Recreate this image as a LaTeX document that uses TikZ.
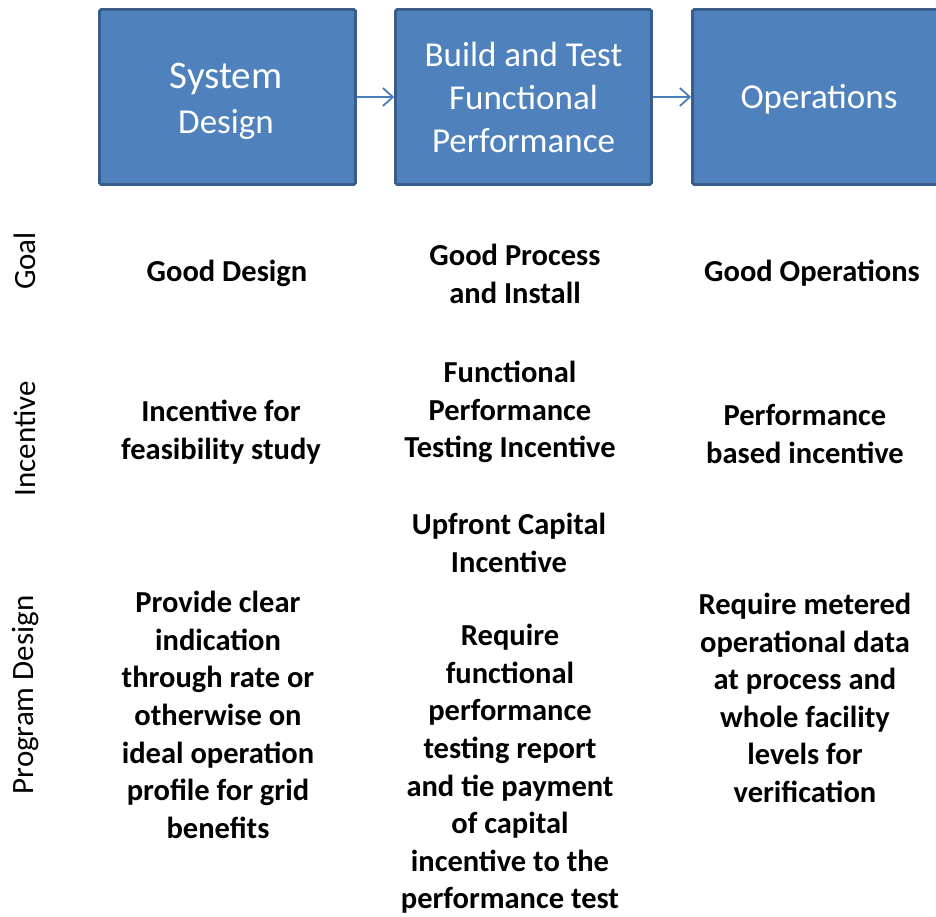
\documentclass[tikz,border=0pt]{standalone}
\usepackage{fontspec}
\setmainfont{Carlito}
\usetikzlibrary{arrows.meta}
\definecolor{stagefill}{HTML}{4F81BD}
\definecolor{stageedge}{HTML}{385D8A}
\definecolor{flowblue}{HTML}{4A7EBB}
\tikzset{
  stage/.style ={draw=stageedge,fill=stagefill,line width=2.6pt,rounded corners=1.5pt,
                 minimum width=256pt,minimum height=175pt,align=center,
                 text=white,font=\fontsize{35}{43}\selectfont,inner sep=0pt},
  stagetxt/.style={text=white,inner sep=0pt},
  cell/.style  ={align=center,font=\bfseries\fontsize{30.5}{37.6}\selectfont,inner sep=0pt},
  rowlbl/.style={rotate=90,font=\fontsize{31}{36}\selectfont,inner sep=0pt},
  flow/.style  ={-{Straight Barb[length=10pt,width=18pt]},draw=flowblue,line width=1.8pt},
}
\begin{document}
\begin{tikzpicture}[x=1pt,y=-1pt]
  \useasboundingbox (0,0) rectangle (936,917);
  \clip (0,0) rectangle (936,917);

  % stages
  \node[stage] (sys) at (227.5,97) {};
  \node[stage] (bld) at (523.5,97) {Build and Test\\Functional\\Performance};
  \node[stage] (ops) at (820.5,97) {};
  \node[stagetxt,font=\fontsize{39}{45}\selectfont] (sys1) at (226,79) {System};
  \node[stagetxt,font=\fontsize{35}{43}\selectfont] (sys2) at (226,124) {Design};
  \node[stagetxt,font=\fontsize{35}{43}\selectfont] (ops1) at (819,99) {Operations};

  \draw[flow] (sys.east) -- (bld.west);
  \draw[flow] (bld.east) -- (ops.west);

  % row labels
  \node[rowlbl] (goal) at (25,261) {Goal};
  \node[rowlbl] (inc)  at (25,439) {Incentive};
  \node[rowlbl] (prog) at (25,695) {Program Design};

  % goal row
  \node[cell] (g1) at (227,273) {Good Design};
  \node[cell] (g2) at (515,274) {Good Process\\and Install};
  \node[cell] (g3) at (812,273) {Good Operations};

  % incentive row
  \node[cell] (i1) at (221,432) {Incentive for\\feasibility study};
  \node[cell] (i2) at (510,412) {Functional\\Performance\\Testing Incentive};
  \node[cell] (i2b) at (509,543) {Upfront Capital\\Incentive};
  \node[cell] (i3) at (805,434) {Performance\\based incentive};

  % program design row
  \node[cell] (p1) at (218,715) {Provide clear\\indication\\through rate or\\otherwise on\\ideal operation\\profile for grid\\benefits};
  \node[cell] (p2) at (510,769) {Require\\functional\\performance\\testing report\\and tie payment\\of capital\\incentive to the\\performance test};
  \node[cell] (p3) at (805,698) {Require metered\\operational data\\at process and\\whole facility\\levels for\\verification};
\end{tikzpicture}
\end{document}
